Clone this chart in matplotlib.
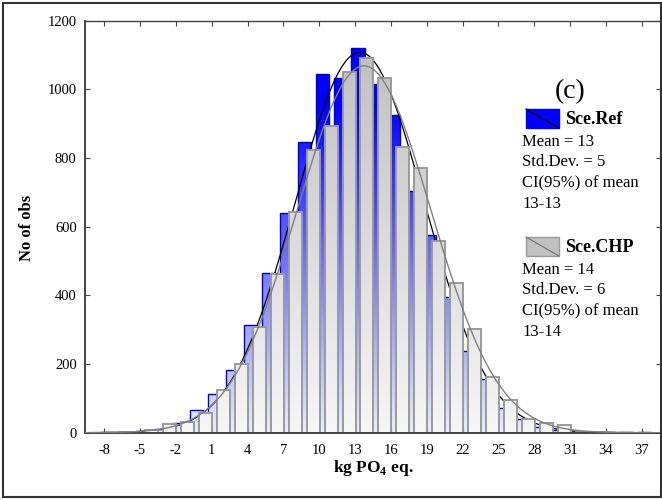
import numpy as np
import matplotlib
matplotlib.use('Agg')
import matplotlib.pyplot as plt
from matplotlib.colors import LinearSegmentedColormap
from matplotlib.path import Path
from matplotlib.patches import Rectangle
from matplotlib.lines import Line2D

plt.rcParams['font.family'] = ['Liberation Serif', 'DejaVu Serif']
plt.rcParams['mathtext.fontset'] = 'custom'
plt.rcParams['mathtext.rm'] = 'Liberation Serif:bold'
plt.rcParams['axes.unicode_minus'] = False

# histogram counts per 1.5-wide class, left edge of first class at -8.3
ref_counts = [2, 1, 6, 12, 27, 65, 113, 184, 313, 466, 640, 848, 1045, 1033, 1120,
              1017, 924, 703, 575, 395, 237, 156, 72, 40, 18, 8, 3, 2, 1, 1, 1]
chp_counts = [0, 2, 9, 24, 32, 56, 124, 200, 308, 463, 643, 824, 893, 1050, 1091,
              1032, 833, 770, 557, 437, 301, 163, 96, 40, 29, 21, 2, 1, 0, 0, 0]
first_edge = -8.3
bin_width = 1.5

# fitted normal curves
n_obs = 10000
ref_mean, ref_sd = 13.4, 5.4
chp_mean, chp_sd = 13.75, 5.6

x_ticks = [-8, -5, -2, 1, 4, 7, 10, 13, 16, 19, 22, 25, 28, 31, 34, 37]
y_ticks = [0, 200, 400, 600, 800, 1000, 1200]

ref_stats = ['Mean = 13', 'Std.Dev. = 5', 'CI(95%) of mean', '13-13']
chp_stats = ['Mean = 14', 'Std.Dev. = 6', 'CI(95%) of mean', '13-14']

fig = plt.figure(figsize=(6.62, 5), dpi=100)
ax = fig.add_axes([0.1284, 0.1346, 0.8701, 0.824])
xmin, xmax = -9.6, 38.6

edges = first_edge + bin_width * np.arange(len(ref_counts))
bar_w = 1.09


def gradient_bars(x, heights, cmap, edge, lw, z):
    bars = ax.bar(x, heights, bar_w, align='edge', facecolor='none',
                  edgecolor=edge, linewidth=lw, zorder=z + 0.1)
    paths = [r.get_path().transformed(r.get_patch_transform()) for r in bars]
    clip = Path.make_compound_path(*paths)
    grad = np.linspace(0, 1, 256).reshape(-1, 1)
    img = ax.imshow(grad, extent=[xmin, xmax, 0, 1200], origin='lower',
                    aspect='auto', cmap=cmap, zorder=z, interpolation='bilinear')
    img.set_clip_path(clip, ax.transData)
    return bars


blue_cmap = LinearSegmentedColormap.from_list('b', [(0, '#ececff'), (0.8, '#0000ff'), (1, '#0000ff')])
gray_cmap = LinearSegmentedColormap.from_list('g', ['#f6f6f6', '#bcbcbc'])

gradient_bars(edges, ref_counts, blue_cmap, '#0000c8', 1.0, 1)

xs = np.linspace(xmin, xmax, 500)
ref_fit = n_obs * bin_width / (ref_sd * np.sqrt(2 * np.pi)) * np.exp(-0.5 * ((xs - ref_mean) / ref_sd) ** 2)
chp_fit = n_obs * bin_width / (chp_sd * np.sqrt(2 * np.pi)) * np.exp(-0.5 * ((xs - chp_mean) / chp_sd) ** 2)
ax.plot(xs, ref_fit, color='black', lw=0.9, zorder=1.5)

gradient_bars(edges + 0.75, chp_counts, gray_cmap, '#9a9a9a', 1.4, 2)
ax.plot(xs, chp_fit, color='#808080', lw=1.0, zorder=3)

ax.set_xlim(xmin, xmax)
ax.set_ylim(0, 1200)
ax.set_xticks(x_ticks)
ax.set_yticks(y_ticks)
ax.tick_params(direction='in', length=3.5, width=0.8, top=True, right=True,
               labelsize=10.5, color='#444444')
ax.tick_params(axis='x', pad=8)
ax.tick_params(axis='y', pad=6)
for s in ax.spines.values():
    s.set_color('#444444')
    s.set_linewidth(1.0)
ax.spines['left'].set_linewidth(1.4)
ax.spines['bottom'].set_linewidth(1.4)

fig.text(373 / 662, 1 - 468 / 500, r'kg PO$_4$ eq.', fontsize=12.5, fontweight='bold',
         ha='center', va='center')
fig.text(27 / 662, 1 - 228 / 500, 'No of obs', fontsize=12, fontweight='bold',
         rotation=90, ha='center', va='center')

# legend block
fig.text(570 / 662, 1 - 92 / 500, '(c)', fontsize=20, ha='center', va='center')


def legend_entry(y_patch, face, edge, diag, name, stats):
    fig.add_artist(Rectangle((526 / 662, 1 - (y_patch + 19) / 500), 33 / 662, 19 / 500,
                             facecolor=face, edgecolor=edge, lw=1.0, transform=fig.transFigure))
    fig.add_artist(Line2D([526 / 662, 559 / 662], [1 - y_patch / 500, 1 - (y_patch + 19) / 500],
                          color=diag, lw=0.9, transform=fig.transFigure))
    fig.text(565 / 662, 1 - (y_patch + 10) / 500, name, fontsize=13, fontweight='bold',
             ha='left', va='center')
    for i, line in enumerate(stats):
        fig.text(522 / 662, 1 - (y_patch + 33 + 20.5 * i) / 500, line, fontsize=12,
                 ha='left', va='center')


legend_entry(109, '#0000ff', '#0000ff', 'black', 'Sce.Ref', ref_stats)
legend_entry(237, '#c0c0c0', '#999999', '#777777', 'Sce.CHP', chp_stats)

# outer frame
fig.add_artist(Rectangle((3 / 662, 3 / 500), 658 / 662, 494 / 500, fill=False,
                         edgecolor='#333333', lw=1.5, transform=fig.transFigure))

fig.savefig('out.png', dpi=100)
